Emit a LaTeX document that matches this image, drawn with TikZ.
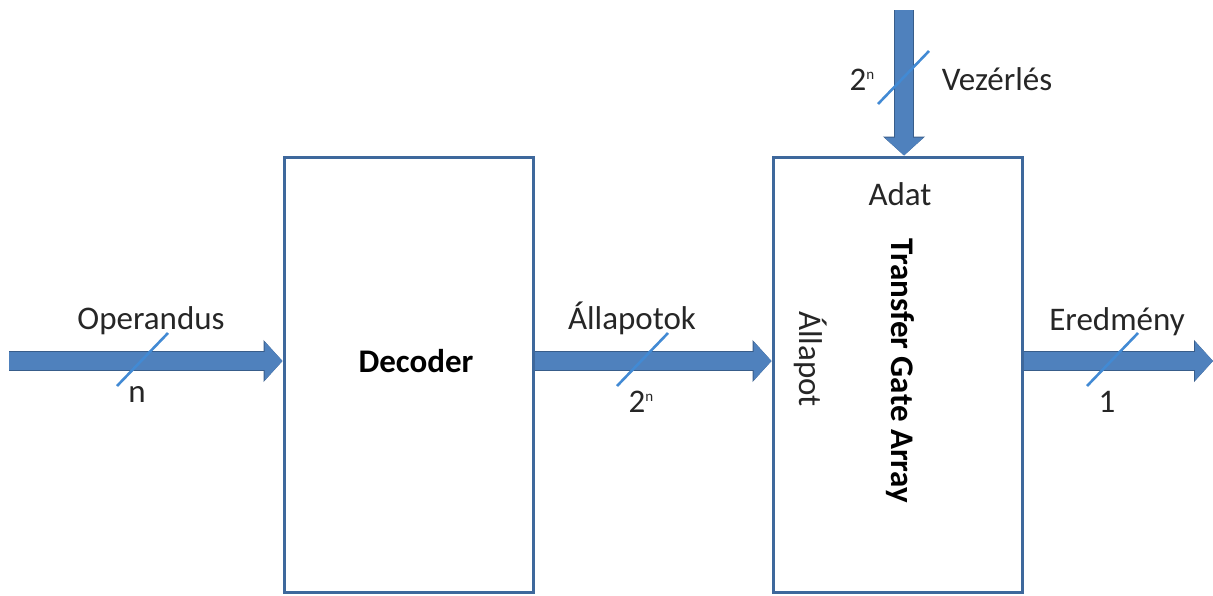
\documentclass[tikz,border=0pt]{standalone}
\usepackage{fontspec}
\setmainfont{Carlito}
\usetikzlibrary{arrows.meta}
\definecolor{boxline}{RGB}{62,104,156}
\definecolor{busfill}{RGB}{79,129,189}
\definecolor{busedge}{RGB}{56,93,138}
\definecolor{slashcol}{RGB}{66,138,212}
\definecolor{txt}{RGB}{38,38,38}
% small raised exponent for the bus widths
\newcommand{\bexp}[1]{\raisebox{5.2pt}{\fontsize{7.5}{8}\selectfont #1}}
\begin{document}
\begin{tikzpicture}[x=0.5pt,y=-0.5pt,
  every node/.style={font=\fontsize{16.5}{20}\selectfont, text=txt, inner sep=0pt},
  block/.style={draw=boxline, line width=1.5pt, fill=white, rectangle,
    minimum width=124.5pt, minimum height=217.5pt},
  bus/.style={line width=9pt, busfill,
    -{Triangle[length=9pt,width=19pt]},
    preaction={draw=busedge, line width=10pt, -{Triangle[length=9.5pt,width=20.5pt]}}},
  slash/.style={draw=slashcol, line width=1.3pt},
  lbl/.style={anchor=base},
  title/.style={font=\fontsize{16.5}{20}\selectfont\bfseries, text=black}]

\useasboundingbox (0,0) rectangle (1213,595);

% blocks
\node[block] (dec) at (408.5,374.5) {};
\node[block] (tga) at (897.5,374.5) {};

% free ends of the buses
\coordinate (opin) at (9,361);
\coordinate (resout) at (1213,361);
\coordinate (ctlin) at (904,10);

% buses
\draw[bus] (opin) -- (opin -| dec.west);
\draw[bus] (dec.east |- opin) -- (tga.west |- opin);
\draw[bus] (tga.east |- opin) -- (resout);
\draw[bus] (ctlin) -- (ctlin |- tga.north);

% bus width marks
\coordinate (s1) at (142,360);
\coordinate (s2) at (642,360);
\coordinate (s3) at (1112,360);
\coordinate (s4) at (903,78);
\foreach \s in {s1,s2,s3,s4}
  \draw[slash] (\s) ++(-25,26) -- ++(51,-53);

% bus labels
\node[lbl] (lop) at (151,329) {Operandus};
\node[lbl] (lopn) at (137,402) {n};
\node[lbl] (lall) at (632,329) {Állapotok};
\node[lbl] (lalln) at (641,412) {2\bexp{n}};
\node[lbl] (lered) at (1117,330) {Eredmény};
\node[lbl] (lerdn) at (1107,412) {1};
\node[lbl] (lctln) at (862,90) {2\bexp{n}};
\node[lbl] (lctl) at (997,90) {Vezérlés};

% block texts
\node[title, anchor=base] (tdec) at (416,372) {Decoder};
\node[lbl] (tadat) at (900,205) {Adat};
\node[title, rotate=-90] (ttga) at (900,371) {Transfer Gate Array};
\node[rotate=-90] (tall) at (811,359) {Állapot};
\end{tikzpicture}
\end{document}
